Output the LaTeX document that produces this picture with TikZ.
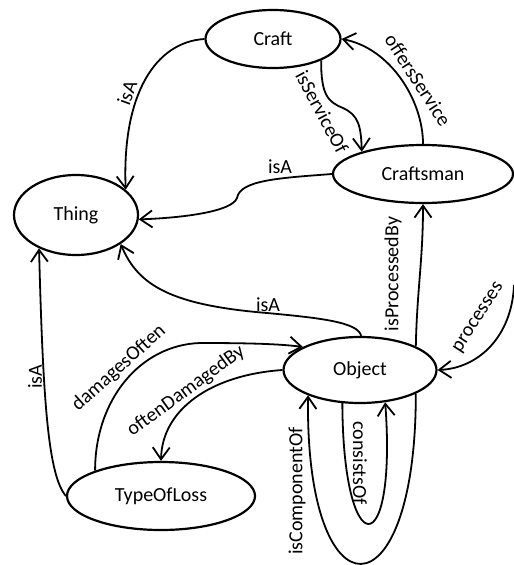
\documentclass[tikz,border=0pt]{standalone}
\usepackage{fontspec}
\setmainfont{Carlito}
\usetikzlibrary{arrows.meta,shapes.geometric}

\begin{document}
\begin{tikzpicture}[x=1pt,y=1pt,
  classNode/.style={ellipse,draw,line width=2.2pt,inner sep=0pt,font=\fontsize{20}{24}\selectfont},
  relEdge/.style={line width=1.8pt,-{Straight Barb[length=12pt,width=17pt]}},
  relLabel/.style={font=\fontsize{20}{24}\selectfont,inner sep=1pt}]
\useasboundingbox (0,0) rectangle (514,-565);
% classes
\node[classNode,minimum width=135pt,minimum height=58pt] (craft) at (273,-39) {Craft};
\node[classNode,minimum width=180pt,minimum height=58pt] (craftsman) at (423,-174) {Craftsman};
\node[classNode,minimum width=124pt,minimum height=80pt] (thing) at (76,-215) {Thing};
\node[classNode,minimum width=153pt,minimum height=66pt] (object) at (360,-370) {Object};
\node[classNode,minimum width=188pt,minimum height=68pt] (typeOfLoss) at (161,-496) {TypeOfLoss};
\coordinate (processesStart) at (514,-285);
% relations
\draw[relEdge] (craft.180) .. controls (155,-42) and (122,-95) .. (thing.27);
\draw[relEdge] (craft.-24) .. controls (321,-95) and (328,-102) .. (343,-108)
  .. controls (358,-115) and (361,-125) .. (craftsman.160);
\draw[relEdge] (craftsman.90) .. controls (423,-100) and (390,-48) .. (craft.0);
\draw[relEdge] (craftsman.180) .. controls (280,-178) and (240,-180) .. (237,-198)
  .. controls (232,-212) and (180,-218) .. (thing.-4);
\draw[relEdge] (object.88) .. controls (358,-322) and (320,-318) .. (267,-313)
  .. controls (170,-305) and (138,-285) .. (thing.-33);
\draw[relEdge] (object.23) .. controls (417,-290) and (423,-260) .. (craftsman.-90);
\draw[relEdge] (processesStart) .. controls (512,-335) and (480,-368) .. (object.0);
\draw[relEdge] (typeOfLoss.159) .. controls (95,-400) and (140,-345) .. (200,-343)
  .. controls (250,-343) and (280,-344) .. (object.158);
\draw[relEdge] (object.180) .. controls (210,-375) and (162,-410) .. (typeOfLoss.90);
\draw[relEdge] (typeOfLoss.180) .. controls (48,-475) and (43,-400) .. (thing.-138);
\draw[relEdge] (object.-23) .. controls (416,-620) and (305,-620) .. (object.-154);
\draw[relEdge] (object.-118) .. controls (343,-564) and (397,-564) .. (object.-52);
% labels
\node[relLabel,rotate=70] (craftIsA) at (127,-93) {isA};
\node[relLabel,rotate=-62] (isServiceOf) at (322,-112) {isServiceOf};
\node[relLabel,rotate=-57] (offersService) at (418,-80) {offersService};
\node[relLabel] (craftsmanIsA) at (280,-167) {isA};
\node[relLabel] (objectIsA) at (268,-305) {isA};
\node[relLabel,rotate=90] (isProcessedBy) at (393,-274) {isProcessedBy};
\node[relLabel,rotate=57] (processes) at (479,-318) {processes};
\node[relLabel,rotate=42] (damagesOften) at (119,-368) {damagesOften};
\node[relLabel,rotate=36] (oftenDamagedBy) at (186,-391) {oftenDamagedBy};
\node[relLabel,rotate=90] (lossIsA) at (35,-377) {isA};
\node[relLabel,rotate=90] (isComponentOf) at (297,-491) {isComponentOf};
\node[relLabel,rotate=-90] (consistsOf) at (360,-463) {consistsOf};
\end{tikzpicture}
\end{document}
